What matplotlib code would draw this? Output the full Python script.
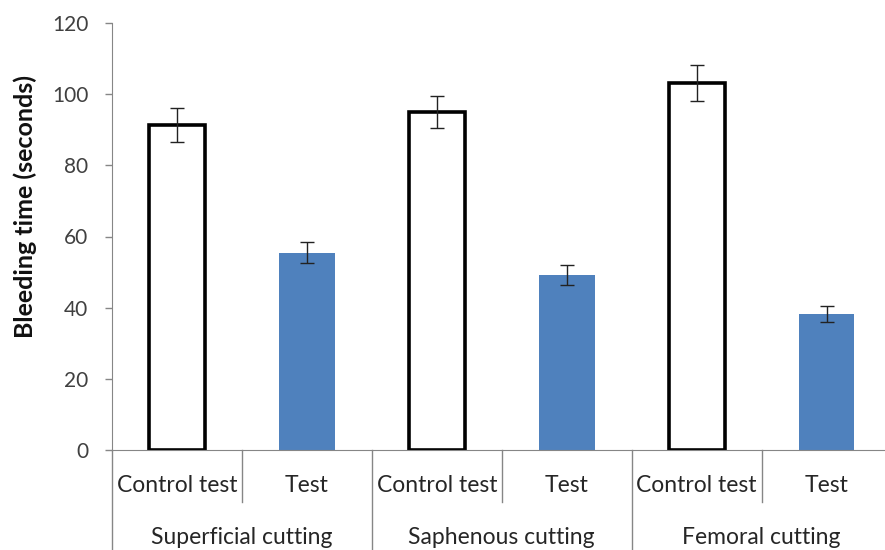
import matplotlib as mpl
mpl.rcParams['font.family'] = ['Lato', 'DejaVu Sans']
import numpy as np
import matplotlib.pyplot as plt
import matplotlib.transforms as mtransforms

# data
groups = ['Superficial cutting', 'Saphenous cutting', 'Femoral cutting']
sub_labels = ['Control test', 'Test']
control = [91.3, 95.0, 103.2]
control_err = [4.8, 4.6, 5.0]
test = [55.5, 49.2, 38.3]
test_err = [3.0, 2.9, 2.2]

fig = plt.figure(figsize=(8.85, 5.5), dpi=100)
ax = fig.add_axes([112/885, 100/550, 1 - 112/885, 427/550])

x_ctrl = np.arange(len(groups)) * 2
x_test = x_ctrl + 1
bw = 0.43

ax.bar(x_ctrl, control, width=bw, color='white', edgecolor='black', linewidth=2.6, zorder=2)
ax.bar(x_test, test, width=bw, color='#4F81BD', edgecolor='none', zorder=2)
ax.errorbar(x_ctrl, control, yerr=control_err, fmt='none', ecolor='#222222',
            elinewidth=1, capsize=5, capthick=1, zorder=3)
ax.errorbar(x_test, test, yerr=test_err, fmt='none', ecolor='#222222',
            elinewidth=1, capsize=5, capthick=1, zorder=3)

ax.set_xlim(-0.5, 5.45)
ax.set_ylim(0, 120)
ax.set_yticks(np.arange(0, 121, 20))
ax.tick_params(axis='y', labelsize=15, labelcolor='#404040', color='#868686',
               length=5, width=1, pad=12)
ax.set_xticks([])
for s in ['top', 'right']:
    ax.spines[s].set_visible(False)
ax.spines['left'].set_color('#868686')
ax.spines['bottom'].set_color('#868686')
fig.text(25/885, 1 - 207/550, 'Bleeding time (seconds)', rotation=90,
         ha='center', va='center', fontsize=18, fontweight='bold', color='#111111')

# two-level category axis
trans = mtransforms.blended_transform_factory(ax.transData, ax.transAxes)
n_cat = len(groups) * 2
for i in range(n_cat):
    lab = sub_labels[i % 2]
    ax.text(i, -0.082, lab, transform=trans, ha='center', va='center',
            fontsize=16.5, color='#262626')
for g, name in enumerate(groups):
    ax.text(2 * g + 0.5, -0.204, name, transform=trans, ha='center', va='center',
            fontsize=16.5, color='#262626')

# separators
ax.plot([-0.5, -0.5], [0, -0.24], transform=trans, color='#868686', lw=1, clip_on=False)
for i in range(n_cat - 1):
    b = i + 0.5
    bottom = -0.122 if i % 2 == 0 else -0.24
    ax.plot([b, b], [0, bottom], transform=trans, color='#868686', lw=1, clip_on=False)

fig.savefig('out.png', dpi=100)
